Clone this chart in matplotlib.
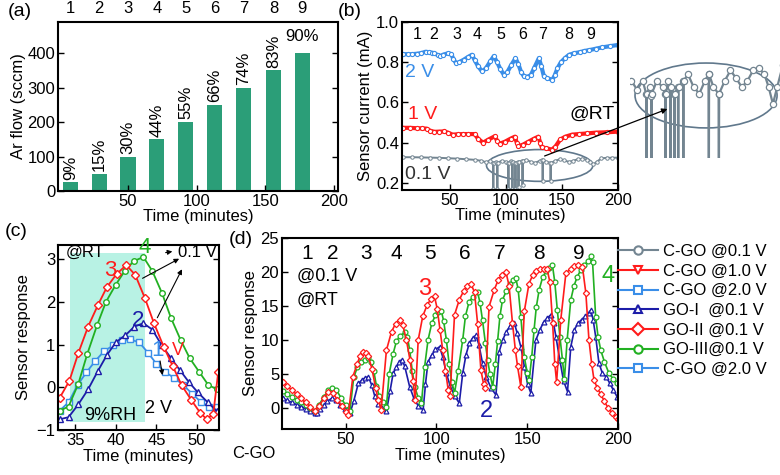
import numpy as np
import matplotlib
matplotlib.use("Agg")
import matplotlib.pyplot as plt
from matplotlib.patches import Ellipse, Rectangle, FancyArrowPatch
from matplotlib.lines import Line2D
import matplotlib.transforms as mtransforms

plt.rcParams['font.family'] = ['Liberation Sans', 'DejaVu Sans']
plt.rcParams['font.size'] = 12

# ---------------- data ----------------
# (a) Ar flow bars
bar_t = [8, 29, 50, 71, 92, 113, 134, 156, 177]
bar_flow = [25, 50, 100, 150, 200, 250, 300, 350, 400]
bar_rh = ['9%', '15%', '30%', '44%', '55%', '66%', '74%', '83%', '90%']
cycle_lbl = ['1', '2', '3', '4', '5', '6', '7', '8', '9']

# (b) sensor current vs time
b_cycle_t = [21, 35.6, 56, 74, 95, 115, 132.6, 156, 176]
v2_t = [8, 12, 16, 20, 24, 28, 31, 34, 36, 39, 41, 44, 48.5, 51, 53, 55.4, 58, 62, 66, 69.5,
        72, 75, 78.5, 82, 86, 89, 92, 95, 98, 101, 104.5, 108.4, 111, 113.5, 116, 119, 122, 125,
        129.3, 131.5, 133.8, 137, 141.4, 143.5, 145.9, 149, 152.5, 156.3, 161, 166, 170, 174.3,
        180, 186, 193, 200]
v2_i = [0.84, 0.84, 0.84, 0.842, 0.845, 0.852, 0.85, 0.847, 0.845, 0.835, 0.83, 0.838, 0.845,
        0.84, 0.815, 0.795, 0.8, 0.812, 0.826, 0.837, 0.81, 0.78, 0.754, 0.77, 0.805, 0.83, 0.8,
        0.765, 0.738, 0.75, 0.785, 0.82, 0.79, 0.75, 0.73, 0.728, 0.735, 0.77, 0.82, 0.78, 0.73,
        0.72, 0.713, 0.735, 0.77, 0.8, 0.82, 0.837, 0.845, 0.85, 0.856, 0.86, 0.867, 0.874,
        0.88, 0.886]
v1_t = [8, 14, 20, 25, 29, 32, 35.9, 40, 44.9, 48, 52.4, 57, 61.4, 66, 71.9, 75, 79.4, 84,
        89.9, 92, 94.4, 99, 104, 107.9, 109.5, 110.9, 115, 120, 125, 128.9, 130.5, 131.9, 136,
        140.9, 144, 148.4, 153, 158.9, 165, 172, 180, 190, 200]
v1_i = [0.474, 0.474, 0.472, 0.471, 0.47, 0.46, 0.454, 0.455, 0.456, 0.45, 0.44, 0.442, 0.443,
        0.443, 0.443, 0.42, 0.40, 0.415, 0.432, 0.41, 0.395, 0.405, 0.42, 0.43, 0.40, 0.383,
        0.39, 0.405, 0.42, 0.43, 0.40, 0.378, 0.372, 0.366, 0.38, 0.416, 0.43, 0.44, 0.443,
        0.446, 0.45, 0.452, 0.455]
v01_t = [8, 16, 24, 32, 40, 48, 56, 64, 72, 78, 82, 86, 88.4, 88.6, 88.8, 91, 92.0, 92.2, 92.4,
         96, 100, 101.9, 102.1, 102.3, 104, 105.5, 105.7, 105.9, 108.2, 108.4, 108.6, 110.9,
         111.1, 111.3, 114.5, 114.7, 114.9, 118, 122, 126, 130, 132.5, 132.7, 132.9, 136, 139.6,
         139.8, 140.0, 144, 148, 152, 156, 160, 164, 168, 172, 175, 178, 181, 185, 190, 195, 200]
v01_i = [0.328, 0.328, 0.327, 0.326, 0.325, 0.323, 0.321, 0.318, 0.315, 0.31, 0.303, 0.31, 0.30,
         0.17, 0.30, 0.305, 0.298, 0.17, 0.30, 0.31, 0.305, 0.30, 0.17, 0.30, 0.31, 0.305, 0.17,
         0.305, 0.30, 0.17, 0.30, 0.305, 0.18, 0.305, 0.31, 0.19, 0.31, 0.315, 0.305, 0.30, 0.31,
         0.315, 0.21, 0.315, 0.305, 0.30, 0.21, 0.30, 0.31, 0.318, 0.312, 0.305, 0.31, 0.318,
         0.32, 0.315, 0.305, 0.292, 0.305, 0.322, 0.325, 0.325, 0.326]

# (c) one cycle, sensor response
c_red_t = [33.1, 34.3, 35.4, 36.6, 37.8, 38.9, 40.1, 41.3, 42.4, 43.6, 44.7, 45.9, 47.0, 48.1,
           49.3, 50.4, 51.2, 52.0, 52.6]
c_red_r = [-0.25, 0.15, 0.8, 1.42, 1.92, 2.34, 2.65, 2.86, 2.63, 2.08, 1.5, 0.95, 0.5, 0.05,
           -0.3, -0.6, -0.75, -0.62, 0.35]
c_grn_t = [33.1, 34.2, 35.4, 36.5, 37.7, 38.8, 40.0, 41.1, 42.2, 43.4, 44.5, 45.7, 46.8, 48.0,
           49.1, 50.3, 51.4, 52.5]
c_grn_r = [-0.55, -0.45, 0.08, 0.78, 1.45, 2.0, 2.4, 2.72, 2.95, 3.05, 2.72, 2.2, 1.62, 1.1,
           0.68, 0.35, 0.05, -0.05]
c_dbl_t = [33.1, 34.2, 35.4, 36.6, 37.8, 38.9, 40.0, 41.2, 42.3, 43.4, 44.5, 45.6, 46.8, 47.9,
           49.0, 50.1, 51.3, 52.4]
c_dbl_r = [-0.75, -0.7, -0.4, -0.05, 0.38, 0.75, 1.05, 1.22, 1.42, 1.5, 1.35, 1.0, 0.68, 0.4,
           0.12, -0.12, -0.35, -0.55]
c_lbl_t = [33.1, 34.2, 35.3, 36.4, 37.5, 38.6, 39.7, 40.8, 41.8, 42.9, 44.0, 45.0, 46.1, 47.2,
           48.3, 49.4, 50.5, 51.5, 52.5]
c_lbl_r = [-0.55, -0.35, 0.05, 0.35, 0.62, 0.85, 0.98, 1.1, 1.12, 1.05, 0.8, 0.55, 0.35, 0.22,
           0.05, -0.15, -0.35, -0.45, -0.45]

# (d) nine cycles at 0.1 V
d_cycle_t = [28.6, 43.2, 61.5, 78, 96.3, 115.4, 134.6, 156.2, 178.6]
go2_t = [15.5, 18, 20.5, 23, 25.5, 28, 30.5, 33, 35.5, 38, 40.5, 43, 45.5, 48, 50.5, 51.5,
         54, 56.5, 58, 59.5, 61, 62.5, 64.5, 66.5, 68, 69.6,
         72.5, 75.3, 77.5, 79.8, 81.5, 83.5, 85.5, 87.2, 88.3,
         90, 92.5, 95, 97, 99, 100.5, 102, 103.5, 105, 106.5, 107.5,
         110, 112.6, 115, 117, 119, 121, 122.7, 124.5, 126, 127,
         129, 131.9, 134, 136, 138.3, 140, 141.9, 143.5, 144.7, 146.5,
         148.4, 151, 153, 155, 157, 159, 161, 162.5, 164, 165.2, 166.2,
         168.5, 171.3, 174, 176, 178, 180.4, 182.3, 184, 185.5, 186.8, 188.5, 190.5, 192.5,
         194.5, 196.5, 198.7, 200]
go2_r = [3.8, 3.2, 2.6, 2.0, 1.4, 0.8, 0.2, -0.5, 0.3, 1.4, 2.4, 2.2, 1.2, 0.3, -0.6, -1.0,
         4.6, 6.5, 7.7, 8.3, 8.1, 7.6, 5.8, 3.0, 1.2, -0.3,
         8.5, 11.2, 12.4, 13.0, 12.2, 10.0, 7.0, 4.0, 1.2,
         10.0, 13.5, 15.2, 16.0, 16.4, 14.5, 11.5, 8.5, 5.5, 2.7, 1.7,
         13.7, 15.9, 17.2, 17.9, 18.3, 17.0, 12.4, 5.6, 3.5, 2.9,
         14.9, 17.4, 18.8, 19.6, 20.0, 18.0, 12.5, 8.5, 6.1, 3.1,
         14.2, 18.3, 19.5, 20.2, 20.5, 20.5, 20.4, 18.5, 12.5, 6.5, 3.8,
         13.0, 19.8, 20.5, 20.9, 21.0, 20.8, 16.9, 10.0, 6.5, 4.1, 3.0, 2.0, 1.0,
         0.0, -0.7, -1.3, -1.6]
go3_t = [15.5, 18, 20.5, 23, 25.5, 28, 30.5, 33, 35.5, 38, 40.5, 42.5, 45, 47.5, 50, 52.4,
         54.5, 56.5, 58.5, 60.5, 62.5, 64, 65.5, 67, 68.5, 70.5, 72.5,
         74, 76.2, 78, 80, 82.6, 84, 85.3, 86.7, 88.1, 90, 91.8,
         93.5, 95.4, 97.5, 99.5, 101, 102.7, 104, 105.5, 107, 108.5, 110,
         112, 114.5, 116, 118, 120, 122.7, 124, 125.4, 127, 128.2, 129.5, 131,
         132.5, 133.7, 135, 136.4, 138.5, 140.5, 142, 143.7, 145, 146.5, 148.4, 150, 151.1,
         152.5, 153.8, 155, 156.6, 158.5, 160.5, 162, 163.9, 165.2, 166.6, 168, 169.4, 170.5,
         172, 174, 175.8, 177.6, 179.5, 181.5, 183.5, 185, 186, 187.7, 189, 190.5, 192.5, 195,
         197.5, 199.6]
go3_r = [2.5, 2.0, 1.6, 1.2, 0.8, 0.4, 0.0, -0.4, 0.5, 1.6, 2.6, 2.9, 2.6, 1.5, 0.4, -0.4,
         4.5, 6.0, 6.7, 7.1, 7.3, 6.8, 5.5, 3.2, 1.8, 0.8, 0.2,
         5.0, 8.0, 9.8, 10.6, 11.1, 10.5, 8.5, 5.5, 3.1, 1.5, 0.7,
         6.0, 10.0, 12.5, 13.6, 14.1, 14.3, 12.8, 10.0, 6.5, 3.8, 2.2,
         5.5, 10.0, 13.5, 15.6, 16.3, 17.0, 15.5, 12.9, 9.5, 7.1, 5.0, 3.1,
         6.5, 9.8, 13.5, 15.9, 17.2, 18.2, 18.8, 19.1, 17.5, 13.4, 7.5, 5.2, 4.1,
         7.5, 11.5, 14.8, 17.4, 19.2, 20.2, 20.6, 21.0, 18.5, 14.4, 10.5, 7.1, 4.2,
         10.0, 15.9, 18.0, 19.3, 20.3, 21.0, 21.6, 22.3, 21.4, 13.4, 10.5, 8.5, 6.8, 5.1,
         4.2, 3.6]
go1_t = [15.5, 18, 20.5, 23, 25.5, 28, 30.5, 33, 34, 36, 38, 40, 42.3, 44.5, 47, 49.5, 52.4,
         54.5, 57, 59, 60.5, 62.5, 64.5, 66.1, 68, 70, 72.5,
         74.5, 76.2, 78, 79.5, 80.8, 82.5, 85.3, 87.5, 90, 92.7,
         94, 95.4, 97.5, 99.5, 101.8, 103.5, 105.5, 107.5, 110, 112.6,
         114.5, 116.3, 118.1, 120, 121.8, 123.5, 125.4, 127.5, 130, 132.8,
         134.6, 136.5, 138.5, 140.5, 142.9, 144.5, 146.5, 148.5, 150.2, 152,
         154.8, 157, 159, 161, 163, 164.5, 165.8, 168, 170, 172.2,
         174, 176, 178, 180, 182, 184, 185, 186.3, 187.7, 189.5, 191.4, 193.5, 195.5, 197.5,
         199.6]
go1_r = [1.4, 1.1, 0.8, 0.5, 0.2, -0.1, -0.4, -0.7, -0.8, -0.2, 0.4, 1.0, 1.4, 1.2, 0.5, -0.2,
         -0.8,
         1.0, 3.6, 4.1, 4.4, 4.6, 3.3, 1.7, 0.6, 0.0, -0.5,
         2.5, 5.1, 6.0, 6.7, 7.1, 6.2, 3.1, 1.5, 0.3, -0.3,
         3.5, 6.8, 7.8, 8.6, 9.0, 7.5, 5.1, 3.3, 1.8, 0.7,
         5.1, 7.8, 9.5, 10.3, 10.7, 9.2, 6.6, 4.5, 3.0, 1.9,
         8.3, 10.0, 11.2, 12.0, 12.5, 11.0, 9.0, 6.0, 3.5, 2.2,
         10.0, 11.5, 12.6, 13.2, 13.7, 12.5, 10.5, 7.0, 4.0, 2.4,
         9.0, 11.5, 12.5, 13.0, 13.5, 14.0, 14.4, 13.0, 10.5, 6.6, 5.1, 4.6, 3.6, 2.6,
         1.6]

# ---------------- colours ----------------
c_bar = '#2b9e78'
c_red = '#ff1c1c'
c_grn = '#22b022'
c_dbl = '#1c1ca8'
c_lbl = '#3a8ee8'
c_gry = '#738591'

fig = plt.figure(figsize=(7.8, 4.75), dpi=100)
W, H = 780.0, 475.0


def px_axes(x0, y0, x1, y1):
    return fig.add_axes([x0 / W, 1 - y1 / H, (x1 - x0) / W, (y1 - y0) / H])


def frame(ax):
    for s in ax.spines.values():
        s.set_linewidth(1.5)
    ax.tick_params(direction='in', which='both', right=True, top=False, labelsize=12,
                   width=1.0, length=4, pad=2)


# ---------------- (a) ----------------
ax_a = px_axes(58, 22, 338, 191)
ax_a.bar(bar_t, bar_flow, width=11, color=c_bar)
ax_a.set_xlim(-1, 203)
ax_a.set_ylim(0, 490)
ax_a.set_xticks([50, 100, 150, 200])
ax_a.set_yticks([0, 100, 200, 300, 400])
ax_a.set_xlabel('Time (minutes)', fontsize=12, labelpad=0)
ax_a.set_ylabel('Ar flow (sccm)', fontsize=12, labelpad=1)
frame(ax_a)
trans_a = mtransforms.blended_transform_factory(ax_a.transData, ax_a.transAxes)
for t, f, s, n in zip(bar_t, bar_flow, bar_rh, cycle_lbl):
    if s == '90%':
        ax_a.text(t, f + 25, s, ha='center', va='bottom', fontsize=12)
    else:
        ax_a.text(t, f + 8, s, ha='center', va='bottom', rotation=90, fontsize=12)
    ax_a.text(t, 1.035, n, transform=trans_a, ha='center', va='bottom', fontsize=12)
fig.text(8 / W, 1 - 12 / H, '(a)', fontsize=14, va='center')

# ---------------- (b) ----------------
ax_b = px_axes(402, 22, 618, 190)
band = dict(ms=3, mfc='white', mew=0.8, lw=3)
ax_b.plot(v2_t, v2_i, '-o', color=c_lbl, **band)
ax_b.plot(v1_t, v1_i, '-o', color=c_red, **band)
ax_b.plot(v01_t, v01_i, '-o', color=c_gry, ms=2.5, mfc='white', mew=0.7, lw=1.4)
ax_b.add_patch(Ellipse((130, 0.287), 95, 0.158, fill=False, ec='#60788c', lw=1.2))
ax_b.set_xlim(7, 200)
ax_b.set_ylim(0.165, 1.0)
ax_b.set_xticks([50, 100, 150, 200])
ax_b.set_yticks([0.2, 0.4, 0.6, 0.8, 1.0])
ax_b.set_xlabel('Time (minutes)', fontsize=12, labelpad=0)
ax_b.set_ylabel('Sensor current (mA)', fontsize=12, labelpad=2)
frame(ax_b)
for t, n in zip(b_cycle_t, cycle_lbl):
    ax_b.text(t, 0.94, n, ha='center', va='center', fontsize=11.5)
ax_b.text(9.6, 0.75, '2 V', color=c_lbl, fontsize=14, va='center')
ax_b.text(12, 0.54, '1 V', color=c_red, fontsize=14, va='center')
ax_b.text(9.6, 0.24, '0.1 V', color='#333333', fontsize=14, va='center')
ax_b.text(197, 0.54, '@RT', fontsize=14, ha='right', va='center')
fig.text(338 / W, 1 - 12 / H, '(b)', fontsize=14, va='center')

# inset zoom of the 0.1 V trace
ax_in = px_axes(630, 55, 780, 158)
ax_in.plot(v01_t, v01_i, '-o', color=c_gry, lw=1.6, ms=4.5, mfc='white', mew=0.9)
ax_in.set_xlim(77, 183)
ax_in.set_ylim(0.25, 0.33)
ax_in.axis('off')
ax_in.add_patch(Ellipse((0.507, 0.607), 0.947, 0.63, transform=ax_in.transAxes,
                        fill=False, ec='#60788c', lw=1.2, clip_on=False))
fig.add_artist(FancyArrowPatch((542 / W, 1 - 157 / H), (670 / W, 1 - 108 / H),
                               transform=fig.transFigure, arrowstyle='-|>',
                               mutation_scale=8, color='black', lw=0.9))

# ---------------- (c) ----------------
ax_c = px_axes(58, 245, 219, 430)
ax_c.add_patch(Rectangle((34.4, -0.82), 9.2, 3.96, color='#b8f2e4', lw=0, zorder=0))
ax_c.plot(c_lbl_t, c_lbl_r, '-s', color=c_lbl, ms=4, mfc='white', mew=1, lw=1.3)
ax_c.plot(c_dbl_t, c_dbl_r, '-^', color=c_dbl, ms=4.5, mfc='white', mew=1, lw=1.3)
ax_c.plot(c_grn_t, c_grn_r, '-o', color=c_grn, ms=4, mfc='white', mew=1, lw=1.3)
ax_c.plot(c_red_t, c_red_r, '-D', color=c_red, ms=4, mfc='white', mew=1, lw=1.3)
ax_c.set_xlim(32.9, 52.7)
ax_c.set_ylim(-1, 3.33)
ax_c.set_xticks([35, 40, 45, 50])
ax_c.set_yticks([-1, 0, 1, 2, 3])
ax_c.set_xlabel('Time (minutes)', fontsize=12, labelpad=1)
ax_c.set_ylabel('Sensor response', fontsize=12, labelpad=4)
frame(ax_c)
ax_c.text(33.8, 3.16, '@RT', fontsize=12, va='center')
ax_c.text(39.3, 2.74, '3', color=c_red, fontsize=16, ha='center', va='center')
ax_c.text(43.5, 3.28, '4', color=c_grn, fontsize=16, ha='center', va='center', clip_on=False)
ax_c.text(42.75, 1.57, '2', color=c_dbl, fontsize=16, ha='center', va='center')
ax_c.text(45.1, 0.87, '1', color=c_lbl, fontsize=16, ha='center', va='center')
ax_c.text(47.7, 0.87, 'V', color=c_red, fontsize=13, ha='center', va='center')
ax_c.text(50.1, 3.16, '0.1 V', fontsize=12, ha='center', va='center')
ax_c.text(45.2, -0.49, '2 V', fontsize=13, ha='center', va='center')
ax_c.text(39.3, -0.65, '9%RH', fontsize=13, ha='center', va='center')
for (x0, y0), (x1, y1) in [((45.8, 3.14), (47.3, 3.19)), ((43.0, 2.52), (48.1, 3.04)),
                           ((44.96, 1.57), (48.3, 2.82)), ((45.4, 0.68), (45.8, 0.22))]:
    ax_c.annotate('', xy=(x1, y1), xytext=(x0, y0),
                  arrowprops=dict(arrowstyle='-|>', color='black', lw=0.8, mutation_scale=7))
fig.text(5 / W, 1 - 232 / H, '(c)', fontsize=14, va='center')

# ---------------- (d) ----------------
ax_d = px_axes(282, 238, 618, 429)
ax_d.plot(go1_t, go1_r, '-^', color=c_dbl, ms=3.5, mfc='white', mew=0.9, lw=1.2)
ax_d.plot(go3_t, go3_r, '-o', color=c_grn, ms=3.5, mfc='white', mew=0.9, lw=1.2)
ax_d.plot(go2_t, go2_r, '-D', color=c_red, ms=3.2, mfc='white', mew=0.9, lw=1.2)
ax_d.set_xlim(15, 200)
ax_d.set_ylim(-3.1, 25)
ax_d.set_xticks([50, 100, 150, 200])
ax_d.set_yticks([0, 5, 10, 15, 20, 25])
ax_d.set_xlabel('Time (minutes)', fontsize=12, labelpad=1)
ax_d.set_ylabel('Sensor response', fontsize=12, labelpad=2)
frame(ax_d)
for t, n in zip(d_cycle_t, cycle_lbl):
    ax_d.text(t, 22.7, n, ha='center', va='center', fontsize=15)
ax_d.text(23, 19.3, '@0.1 V', fontsize=13, va='center')
ax_d.text(23, 15.9, '@RT', fontsize=13, va='center')
ax_d.text(93.4, 17.5, '3', color=c_red, fontsize=17, ha='center', va='center')
ax_d.text(127.5, -0.4, '2', color=c_dbl, fontsize=17, ha='center', va='center')
ax_d.text(194.5, 19.4, '4', color=c_grn, fontsize=17, ha='center', va='center')
fig.text(229 / W, 1 - 240 / H, '(d)', fontsize=14, va='center')
fig.text(232 / W, 1 - 453 / H, 'C-GO', fontsize=12, va='center')

# legend
mk = dict(mfc='white', mew=1.5, ms=6, lw=1.5)
handles = [
    Line2D([], [], color=c_gry, marker='o', **mk),
    Line2D([], [], color=c_red, marker='v', **mk),
    Line2D([], [], color=c_lbl, marker='s', **mk),
    Line2D([], [], color=c_dbl, marker='^', **mk),
    Line2D([], [], color=c_red, marker='D', **mk),
    Line2D([], [], color=c_grn, marker='o', **mk),
    Line2D([], [], color=c_lbl, marker='s', **mk),
]
labels = ['C-GO @0.1 V', 'C-GO @1.0 V', 'C-GO @2.0 V', 'GO-I  @0.1 V', 'GO-II @0.1 V',
          'GO-III@0.1 V', 'C-GO @2.0 V']
fig.legend(handles, labels, loc='upper left', bbox_to_anchor=(618 / W, 1 - 244 / H),
           frameon=False, fontsize=12, handlelength=2.4, handletextpad=0.3,
           labelspacing=0.28, borderaxespad=0, borderpad=0)

fig.savefig('out.png', dpi=100)
